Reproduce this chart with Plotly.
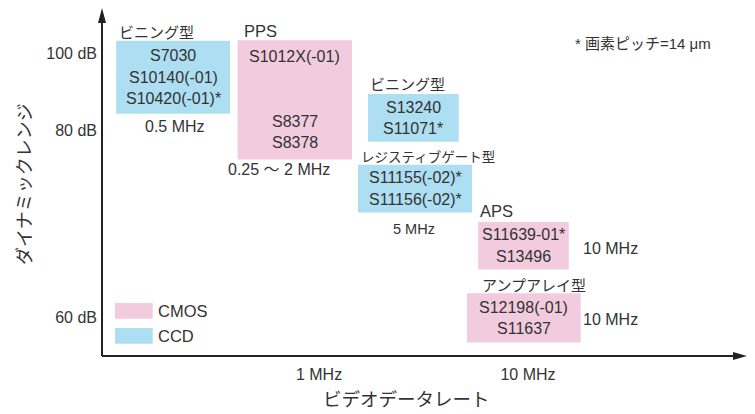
import math
import plotly.graph_objects as go

# ---------------- data ----------------
box_type = ["CCD", "CMOS", "CCD", "CCD", "CMOS", "CMOS"]
box_x0_mhz = [0.107, 0.408, 1.716, 1.537, 5.77, 5.11]
box_x1_mhz = [0.375, 1.439, 4.66, 5.40, 15.66, 17.87]
box_y0 = [69.4, 56.3, 61.4, 41.1, 24.8, 3.9]     # bottom (schematic dynamic-range units)
box_y1 = [90.3, 90.5, 75.1, 54.8, 38.4, 18.0]    # top
box_lines = [
    ["S7030", "S10140(-01)", "S10420(-01)*"],
    ["S1012X(-01)", "", "", "S8377", "S8378"],
    ["S13240", "S11071*"],
    ["S11155(-02)*", "S11156(-02)*"],
    ["S11639-01*", "S13496"],
    ["S12198(-01)", "S11637"],
]
group_labels = ["ビニング型", "PPS", "ビニング型", "レジスティブゲート型", "APS", "アンプアレイ型"]
group_label_x_mhz = [0.108, 0.428, 1.716, 1.554, 5.766, 5.893]
group_label_y = [93.1, 93.1, 78.2, 57.3, 41.5, 20.6]

rate_labels = ["0.5 MHz", "0.25 ～ 2 MHz", "5 MHz", "10 MHz", "10 MHz"]
rate_label_x_mhz = [0.2047, 0.6436, 2.848, 17.93, 17.93]
rate_label_y = [65.9, 53.3, 36.4, 30.9, 10.6]
rate_label_anchor = ["center", "center", "center", "left", "left"]

x_tick_vals = [1, 10]
x_tick_text = ["1 MHz", "10 MHz"]
y_tick_vals = [86.8, 64.5, 11.2]
y_tick_text = ["100 dB", "80 dB", "60 dB"]

legend_names = ["CMOS", "CCD"]
colors = {"CMOS": "rgb(242,203,222)", "CCD": "rgb(173,222,241)"}

note_text = "* 画素ピッチ=14 μm"
note_x_mhz = 16.42
note_y = 89.4

x_title = "ビデオデータレート"
y_title = "ダイナミックレンジ"

# ---------------- styles ----------------
LAT = "Liberation Sans, Arial, Noto Sans CJK JP, sans-serif"
JP = "Noto Sans CJK JP, sans-serif"
TXT = "#333333"
AX = "#222222"

# the page body has an 8px margin; the figure is sized to fill the rest of the window
FIG_W, FIG_H = 747, 406
ML, MR, MT, MB = 94, 8, 0, 58
PW = FIG_W - ML - MR      # 645
PH = FIG_H - MT - MB      # 348


def px_x(p):   # window pixel -> paper x
    return (p - 8 - ML) / PW


def px_y(p):   # window pixel -> paper y
    return (FIG_H - MB + 8 - p) / PH


fig = go.Figure()

# boxes
for t, x0, x1, y0, y1 in zip(box_type, box_x0_mhz, box_x1_mhz, box_y0, box_y1):
    fig.add_trace(go.Scatter(
        x=[x0, x1, x1, x0, x0], y=[y0, y0, y1, y1, y0],
        mode="lines", fill="toself", fillcolor=colors[t],
        line=dict(width=0, color=colors[t]), hoverinfo="skip", showlegend=False))

annotations = []
PITCH = 21.5
for x0, x1, y0, y1, lines in zip(box_x0_mhz, box_x1_mhz, box_y0, box_y1, box_lines):
    xc = (math.log10(x0) + math.log10(x1)) / 2
    yc = (y0 + y1) / 2
    n = len(lines)
    for i, s in enumerate(lines):
        if not s:
            continue
        annotations.append(dict(
            x=xc, y=yc, xref="x", yref="y", text=s, showarrow=False,
            xanchor="center", yanchor="middle", yshift=((n - 1) / 2 - i) * PITCH,
            font=dict(family=LAT, size=16, color=TXT)))

for s, xm, yv in zip(group_labels, group_label_x_mhz, group_label_y):
    is_lat = s.isascii()
    size = 16.5 if is_lat else (13.5 if len(s) > 8 else 15)
    annotations.append(dict(
        x=math.log10(xm), y=yv, xref="x", yref="y", text=s, showarrow=False,
        xanchor="left", yanchor="middle",
        font=dict(family=LAT if is_lat else JP, size=size, color=TXT)))

for s, xm, yv, anc in zip(rate_labels, rate_label_x_mhz, rate_label_y, rate_label_anchor):
    annotations.append(dict(
        x=math.log10(xm), y=yv, xref="x", yref="y", text=s, showarrow=False,
        xanchor=anc, yanchor="middle",
        font=dict(family=LAT, size=14.5 if s == "5 MHz" else 16, color=TXT)))

annotations.append(dict(
    x=math.log10(note_x_mhz), y=note_y, xref="x", yref="y", text=note_text,
    showarrow=False, xanchor="left", yanchor="middle",
    font=dict(family=LAT, size=15, color=TXT)))

# legend (drawn)
shapes = []
for name, top, bot, ty in zip(legend_names, [303, 328], [318.7, 343.7], [311, 336]):
    shapes.append(dict(type="rect", xref="paper", yref="paper",
                       x0=px_x(115), x1=px_x(152.7), y0=px_y(bot), y1=px_y(top),
                       fillcolor=colors[name], line=dict(width=0), layer="below"))
    annotations.append(dict(x=px_x(156), y=px_y(ty), xref="paper", yref="paper", text=name,
                            showarrow=False, xanchor="left", yanchor="middle",
                            font=dict(family=LAT, size=16.5, color=TXT)))

# axis titles
annotations.append(dict(x=px_x(406), y=px_y(413), xref="paper", yref="paper", text=x_title,
                        showarrow=False, xanchor="center", yanchor="bottom",
                        font=dict(family=JP, size=18.5, color=TXT)))
annotations.append(dict(x=px_x(23), y=px_y(184), xref="paper", yref="paper",
                        text=y_title, textangle=-90, showarrow=False,
                        xanchor="center", yanchor="middle",
                        font=dict(family=JP, size=18, color=TXT)))

# axes with arrowheads
shapes += [
    dict(type="line", xref="paper", yref="paper", x0=0, y0=0, x1=0.99, y1=0,
         line=dict(color=AX, width=2)),
    dict(type="line", xref="paper", yref="paper", x0=0, y0=0, x1=0, y1=0.98,
         line=dict(color=AX, width=2)),
    dict(type="path", xref="paper", yref="paper", xsizemode="pixel", ysizemode="pixel",
         xanchor=1, yanchor=0, path="M 0 0 L -14 4 L -14 -4 Z",
         fillcolor=AX, line=dict(width=0)),
    dict(type="path", xref="paper", yref="paper", xsizemode="pixel", ysizemode="pixel",
         xanchor=0, yanchor=1, path="M 0 0 L -4 -15 L 4 -15 Z",
         fillcolor=AX, line=dict(width=0)),
]

fig.update_layout(
    width=FIG_W, height=FIG_H,
    margin=dict(l=ML, r=MR, t=MT, b=MB, pad=0),
    paper_bgcolor="white", plot_bgcolor="white",
    showlegend=False,
    xaxis=dict(type="log", range=[-1.0383, 2.0478], showgrid=False, zeroline=False,
               showline=False, tickmode="array", tickvals=x_tick_vals, ticktext=x_tick_text,
               ticks="", ticklabelstandoff=7,
               tickfont=dict(family=LAT, size=16, color=TXT), fixedrange=True),
    yaxis=dict(range=[0, PH / 3.49], showgrid=False, zeroline=False, showline=False,
               tickmode="array", tickvals=y_tick_vals, ticktext=y_tick_text,
               ticks="", ticklabelstandoff=4,
               tickfont=dict(family=LAT, size=16, color=TXT), fixedrange=True),
    annotations=annotations,
    shapes=shapes,
)

fig.write_html("out.html")
